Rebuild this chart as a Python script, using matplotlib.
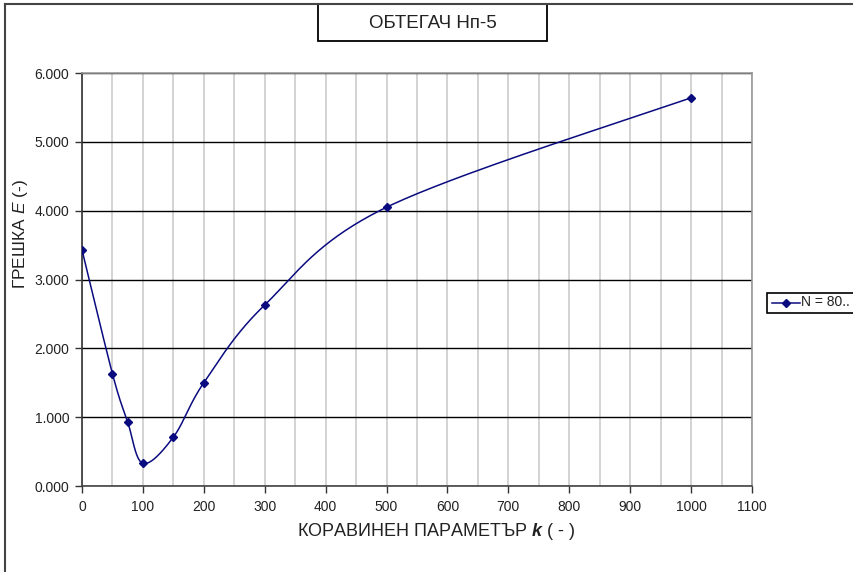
import numpy as np
import matplotlib.pyplot as plt
from matplotlib.patches import Rectangle
from matplotlib.lines import Line2D
from matplotlib.ticker import MultipleLocator, FormatStrFormatter

plt.rcParams['font.family'] = ['Liberation Sans', 'DejaVu Sans']
plt.rcParams['mathtext.fontset'] = 'custom'
plt.rcParams['mathtext.it'] = 'Liberation Sans:italic'
plt.rcParams['mathtext.bf'] = 'Liberation Sans:bold:italic'
plt.rcParams['mathtext.rm'] = 'Liberation Sans'

# stiffness parameter k and error E, series N = 80
k_values = [0, 50, 75, 100, 150, 200, 300, 500, 1000]
err_values = [3.43, 1.63, 0.93, 0.33, 0.71, 1.50, 2.63, 4.05, 5.64]
series_label = "N = 80.."

x_max, y_max = 1100, 6.0
line_color = "#0b0b80"


def smooth(xs, ys, sx, sy, n=40):
    # bezier smoothing like a spreadsheet "smoothed line", done in screen units
    p = np.column_stack([np.asarray(xs) * sx, np.asarray(ys) * sy])
    out = [p[0]]
    for i in range(len(p) - 1):
        p0 = p[i - 1] if i > 0 else p[i]
        p3 = p[i + 2] if i + 2 < len(p) else p[i + 1]
        c1 = p[i] + (p[i + 1] - p0) / 6
        c2 = p[i + 1] - (p3 - p[i]) / 6
        t = np.linspace(0, 1, n)[1:, None]
        seg = ((1 - t) ** 3 * p[i] + 3 * (1 - t) ** 2 * t * c1
               + 3 * (1 - t) * t ** 2 * c2 + t ** 3 * p[i + 1])
        out.extend(seg)
    out = np.array(out)
    return out[:, 0] / sx, out[:, 1] / sy


fig = plt.figure(figsize=(8.54, 5.72), dpi=100)
ax = fig.add_axes([82 / 854, 86 / 572, 670 / 854, 413 / 572])

# smoothing in pixel space of the plot area
sx, sy = 670 / x_max, 413 / y_max
cx, cy = smooth(k_values, err_values, sx, sy)
ax.plot(cx, cy, color=line_color, lw=1.1, zorder=3)
ax.plot(k_values, err_values, linestyle="none", marker="D", markersize=4.5,
        color=line_color, zorder=4)

ax.set_xlim(0, x_max)
ax.set_ylim(0, y_max)
ax.xaxis.set_major_locator(MultipleLocator(100))
ax.xaxis.set_minor_locator(MultipleLocator(50))
ax.yaxis.set_major_locator(MultipleLocator(1))
ax.yaxis.set_major_formatter(FormatStrFormatter("%.3f"))

ax.grid(which="minor", axis="x", color="#cccccc", lw=1.2)
ax.grid(which="major", axis="x", color="#cccccc", lw=1.2)
ax.grid(which="major", axis="y", color="black", lw=1.0)
ax.set_axisbelow(True)

for side in ("top", "right"):
    ax.spines[side].set_color("#999999")
    ax.spines[side].set_linewidth(1.2)
ax.spines["left"].set_color("#333333")
ax.spines["bottom"].set_color("#444444")
ax.spines["left"].set_linewidth(1.2)
ax.spines["bottom"].set_linewidth(1.2)

ax.tick_params(axis="both", which="major", direction="out", length=5,
               width=1, labelsize=10, colors="#333333", labelcolor="#222222")
ax.tick_params(axis="x", which="minor", length=0)
ax.tick_params(axis="x", pad=5)
ax.tick_params(axis="y", pad=4)

# axis titles
fig.text(436 / 854, 1 - 531 / 572, r"КОРАВИНЕН ПАРАМЕТЪР $\mathbf{k}$ ( - )",
         ha="center", va="center", fontsize=13, color="#222222")
fig.text(21 / 854, 1 - 234 / 572, r"ГРЕШКА $\mathit{E}$ (-)", rotation=90,
         ha="center", va="center", fontsize=12.5, color="#222222")

# title in a framed box
fig.patches.append(Rectangle((318 / 854, 1 - 41 / 572), 229 / 854, 37 / 572,
                             transform=fig.transFigure, facecolor="white",
                             edgecolor="black", lw=1.3))
fig.text(432.5 / 854, 1 - 23 / 572, "ОБТЕГАЧ Нп-5", ha="center", va="center",
         fontsize=13.5, color="#222222")

# legend box on the right edge
fig.patches.append(Rectangle((767 / 854, 1 - 313 / 572), 90 / 854, 20 / 572,
                             transform=fig.transFigure, facecolor="white",
                             edgecolor="black", lw=1.2))
fig.lines.append(Line2D([772 / 854, 800 / 854], [1 - 302.5 / 572] * 2,
                        transform=fig.transFigure, color=line_color, lw=1.1,
                        zorder=5))
fig.lines.append(Line2D([786 / 854], [1 - 302.5 / 572],
                        transform=fig.transFigure, color=line_color,
                        marker="D", markersize=4.5, zorder=6))
fig.text(801 / 854, 1 - 302.5 / 572, series_label, ha="left", va="center",
         fontsize=10, color="#222222")

# outer frame of the chart sheet
fig.lines.append(Line2D([5 / 854, 1.0], [1 - 3.5 / 572] * 2,
                        transform=fig.transFigure, color="#444444", lw=1.5))
fig.lines.append(Line2D([5 / 854] * 2, [0, 1 - 3.5 / 572],
                        transform=fig.transFigure, color="#444444", lw=1.5))

fig.savefig("out.png", dpi=100)
